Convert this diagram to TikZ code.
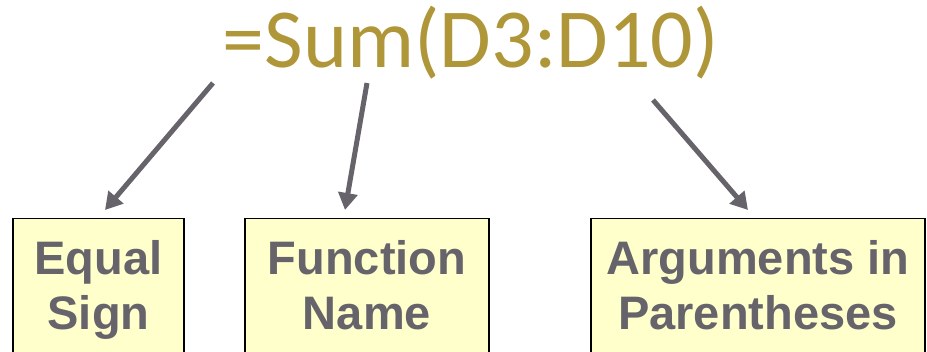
\documentclass[tikz,border=0pt]{standalone}
\usepackage{fontspec}
\setmainfont{Liberation Sans}
\newfontfamily\formulafont{Carlito}
\usetikzlibrary{positioning, arrows.meta, calc}

\definecolor{formulagold}{RGB}{175,150,56}
\definecolor{pointergray}{RGB}{102,99,107}
\definecolor{notepaper}{RGB}{255,255,204}

\begin{document}
\begin{tikzpicture}[
  x=1pt, y=1pt,
  align=center,
  % Estilos de bloques
  formula/.style={anchor=base, inner sep=0pt, text=formulagold, font=\formulafont\fontsize{84}{84}\selectfont},
  partbox/.style={draw=black, line width=1.4pt, fill=notepaper, anchor=north, inner xsep=0pt, inner ysep=22pt,
    text depth=100pt, text=pointergray, font=\bfseries\fontsize{47}{55}\selectfont},
  % Estilos de flechas
  pointer/.style={draw=pointergray, line width=5pt, -{Triangle[length=17pt, width=19pt]}}
]
  \useasboundingbox (0,0) rectangle (927,352);
  \clip (0,0) rectangle (927,352);

  % ==========================================
  % FORMULA
  % ==========================================
  \node[formula] (fx) at (471,284) {=Sum(D3:D10)};

  \coordinate (eqfoot) at (213,269);
  \coordinate (fnfoot) at (367,269);
  \coordinate (argfoot) at (653,252);

  % ==========================================
  % PARTS
  % ==========================================
  \node[partbox, minimum width=171pt] (eq) at (98.5,134) {Equal\\Sign};
  \node[partbox, minimum width=244pt] (fn) at (367,134) {Function\\Name};
  \node[partbox, minimum width=334pt] (arg) at (758,134) {Arguments in\\Parentheses};

  \draw[pointer] (eqfoot) -- ($(eq.north)+(6.5,8)$);
  \draw[pointer] (fnfoot) -- ($(fn.north)+(-22,8)$);
  \draw[pointer] (argfoot) -- ($(arg.north)+(-10,8)$);

\end{tikzpicture}
\end{document}
